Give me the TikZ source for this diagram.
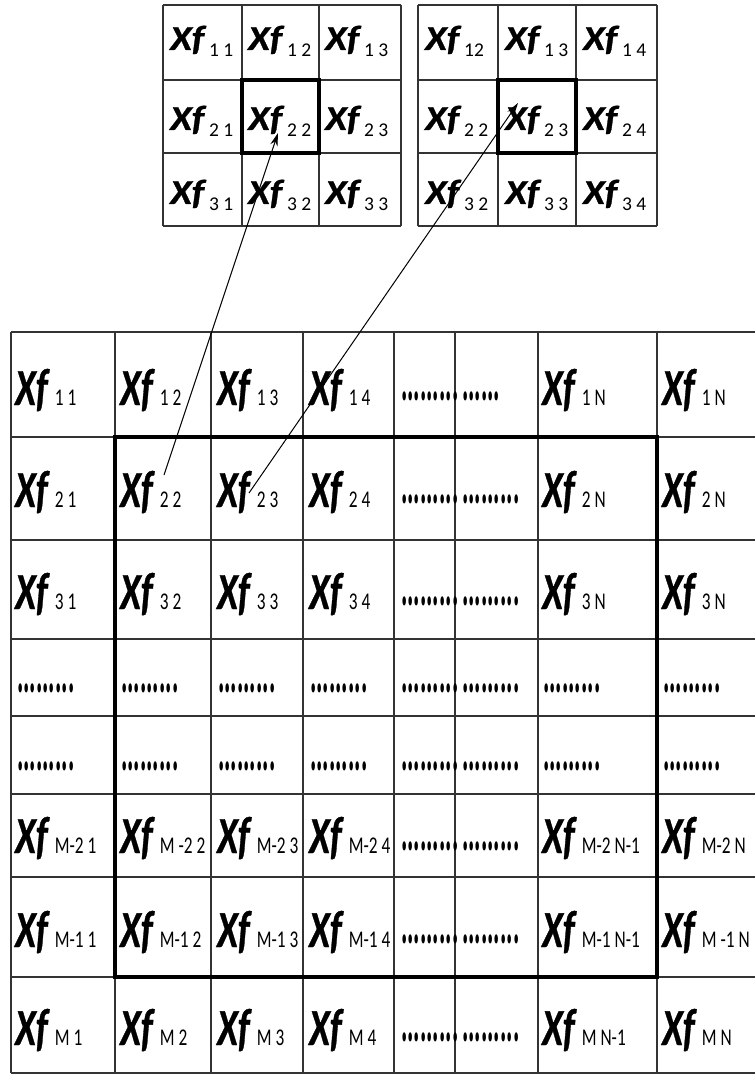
\documentclass[tikz,border=0pt]{standalone}
\usepackage{fontspec}
\newfontfamily\carlito{Carlito}
\newfontfamily\xffam{Carlito}[BoldItalicFeatures={FakeBold=0.8}]
\usetikzlibrary{arrows.meta}
\newcommand\XfT{\xffam\bfseries\itshape\fontsize{35}{35}\selectfont}
\newcommand\SubT{\carlito\fontsize{19.5}{19.5}\selectfont}
\newcommand\XfB{\xffam\bfseries\itshape\fontsize{52}{52}\selectfont}
\newcommand\SubB{\carlito\fontsize{24}{24}\selectfont}
\newcommand\tlab[1]{\scalebox{1.12}[1]{\XfT Xf}\hspace{5pt}\raisebox{-7pt}{\SubT #1}}
\newcommand\blab[1]{\scalebox{0.72}[1]{{\XfB Xf}\hspace{10pt}{\SubB #1}}}
\newcommand\dlab[1]{\scalebox{0.5}[1.3]{\carlito\bfseries\fontsize{47.6}{47.6}\selectfont #1}}
\definecolor{gridc}{HTML}{333333}
\tikzset{
  gridline/.style={draw=gridc, line width=1.2pt},
  thickbox/.style={draw=black, line width=3.8pt},
  lab/.style={anchor=base west, inner sep=0pt, text=black},
  dotlab/.style={anchor=west, inner sep=0pt, text=black},
  conn/.style={draw=black, line width=1pt, -{Stealth[length=13pt,width=7.5pt]}}
}
\begin{document}
\begin{tikzpicture}[x=1pt,y=-1pt]
\useasboundingbox (0,0) rectangle (755,1075);
% ---------- top left grid
\foreach \x in {163,242,319,401} \draw[gridline] (\x,5) -- (\x,226);
\foreach \y in {5,80,153,226} \draw[gridline] (163,\y) -- (401,\y);
\draw[thickbox] (242,80) rectangle (319,153);
% ---------- top right grid
\foreach \x in {418,498,576,657} \draw[gridline] (\x,5) -- (\x,226);
\foreach \y in {5,80,153,226} \draw[gridline] (418,\y) -- (657,\y);
\draw[thickbox] (498,80) rectangle (576,153);
% ---------- bottom grid
\foreach \x in {11,115,211,303,394,455,538,657} \draw[gridline] (\x,332) -- (\x,1073);
\foreach \y in {332,437,540,639,716,794,877,977,1073} \draw[gridline] (11,\y) -- (755,\y);
\draw[thickbox] (115,437) rectangle (657,977);
% ---------- top left labels
\node[lab] (ta11) at (170,50) {\tlab{1 1}};
\node[lab] (ta12) at (248,50) {\tlab{1 2}};
\node[lab] (ta13) at (325,50) {\tlab{1 3}};
\node[lab] (ta21) at (170,130) {\tlab{2 1}};
\node[lab] (ta22) at (248,130) {\tlab{2 2}};
\node[lab] (ta23) at (325,130) {\tlab{2 3}};
\node[lab] (ta31) at (170,204) {\tlab{3 1}};
\node[lab] (ta32) at (248,204) {\tlab{3 2}};
\node[lab] (ta33) at (325,204) {\tlab{3 3}};
% ---------- top right labels
\node[lab] (tb11) at (425,50) {\tlab{12}};
\node[lab] (tb12) at (505,50) {\tlab{1 3}};
\node[lab] (tb13) at (583,50) {\tlab{1 4}};
\node[lab] (tb21) at (425,130) {\tlab{2 2}};
\node[lab] (tb22) at (505,130) {\tlab{2 3}};
\node[lab] (tb23) at (583,130) {\tlab{2 4}};
\node[lab] (tb31) at (425,204) {\tlab{3 2}};
\node[lab] (tb32) at (505,204) {\tlab{3 3}};
\node[lab] (tb33) at (583,204) {\tlab{3 4}};
% ---------- bottom labels
% row 1
\node[lab] (b11) at (15,405) {\blab{1 1}};
\node[lab] (b12) at (120,405) {\blab{1 2}};
\node[lab] (b13) at (217,405) {\blab{1 3}};
\node[lab] (b14) at (309,405) {\blab{1 4}};
\node[dotlab] (b15) at (401,396) {\dlab{.........}};
\node[dotlab] (b16) at (462,396) {\dlab{......}};
\node[lab] (b17) at (542,405) {\blab{1 N}};
\node[lab] (b18) at (662,405) {\blab{1 N}};
% row 2
\node[lab] (b21) at (15,507) {\blab{2 1}};
\node[lab] (b22) at (120,507) {\blab{2 2}};
\node[lab] (b23) at (217,507) {\blab{2 3}};
\node[lab] (b24) at (309,507) {\blab{2 4}};
\node[dotlab] (b25) at (401,499) {\dlab{.........}};
\node[dotlab] (b26) at (462,499) {\dlab{.........}};
\node[lab] (b27) at (542,507) {\blab{2 N}};
\node[lab] (b28) at (662,507) {\blab{2 N}};
% row 3
\node[lab] (b31) at (15,609) {\blab{3 1}};
\node[lab] (b32) at (120,609) {\blab{3 2}};
\node[lab] (b33) at (217,609) {\blab{3 3}};
\node[lab] (b34) at (309,609) {\blab{3 4}};
\node[dotlab] (b35) at (401,601) {\dlab{.........}};
\node[dotlab] (b36) at (462,601) {\dlab{.........}};
\node[lab] (b37) at (542,609) {\blab{3 N}};
\node[lab] (b38) at (662,609) {\blab{3 N}};
% rows 4 and 5
\foreach \r/\yy in {4/688,5/766}{
  \foreach \c/\xx in {1/17,2/121,3/218,4/310,5/401,6/462,7/543,8/663}{
    \node[dotlab] (b\r\c) at (\xx,\yy) {\dlab{.........}};
  }
}
% row 6
\node[lab] (b61) at (15,853) {\blab{M-2 1}};
\node[lab] (b62) at (120,853) {\blab{M -2 2}};
\node[lab] (b63) at (217,853) {\blab{M-2 3}};
\node[lab] (b64) at (309,853) {\blab{M-2 4}};
\node[dotlab] (b65) at (401,846) {\dlab{.........}};
\node[dotlab] (b66) at (462,846) {\dlab{.........}};
\node[lab] (b67) at (542,853) {\blab{M-2 N-1}};
\node[lab] (b68) at (662,853) {\blab{M-2 N}};
% row 7
\node[lab] (b71) at (15,947) {\blab{M-1 1}};
\node[lab] (b72) at (120,947) {\blab{M-1 2}};
\node[lab] (b73) at (217,947) {\blab{M-1 3}};
\node[lab] (b74) at (309,947) {\blab{M-1 4}};
\node[dotlab] (b75) at (401,939) {\dlab{.........}};
\node[dotlab] (b76) at (462,939) {\dlab{.........}};
\node[lab] (b77) at (542,947) {\blab{M-1 N-1}};
\node[lab] (b78) at (662,947) {\blab{M -1 N}};
% row 8
\node[lab] (b81) at (15,1045) {\blab{M 1}};
\node[lab] (b82) at (120,1045) {\blab{M 2}};
\node[lab] (b83) at (217,1045) {\blab{M 3}};
\node[lab] (b84) at (309,1045) {\blab{M 4}};
\node[dotlab] (b85) at (401,1037) {\dlab{.........}};
\node[dotlab] (b86) at (462,1037) {\dlab{.........}};
\node[lab] (b87) at (542,1045) {\blab{M N-1}};
\node[lab] (b88) at (662,1045) {\blab{M N}};
% ---------- connectors
\coordinate (s1) at (164,475);
\coordinate (e1) at (278,133);
\coordinate (s2) at (249,493);
\coordinate (e2) at (518,103);
\draw[conn] (s1) -- (e1);
\draw[conn] (s2) -- (e2);
\end{tikzpicture}
\end{document}
